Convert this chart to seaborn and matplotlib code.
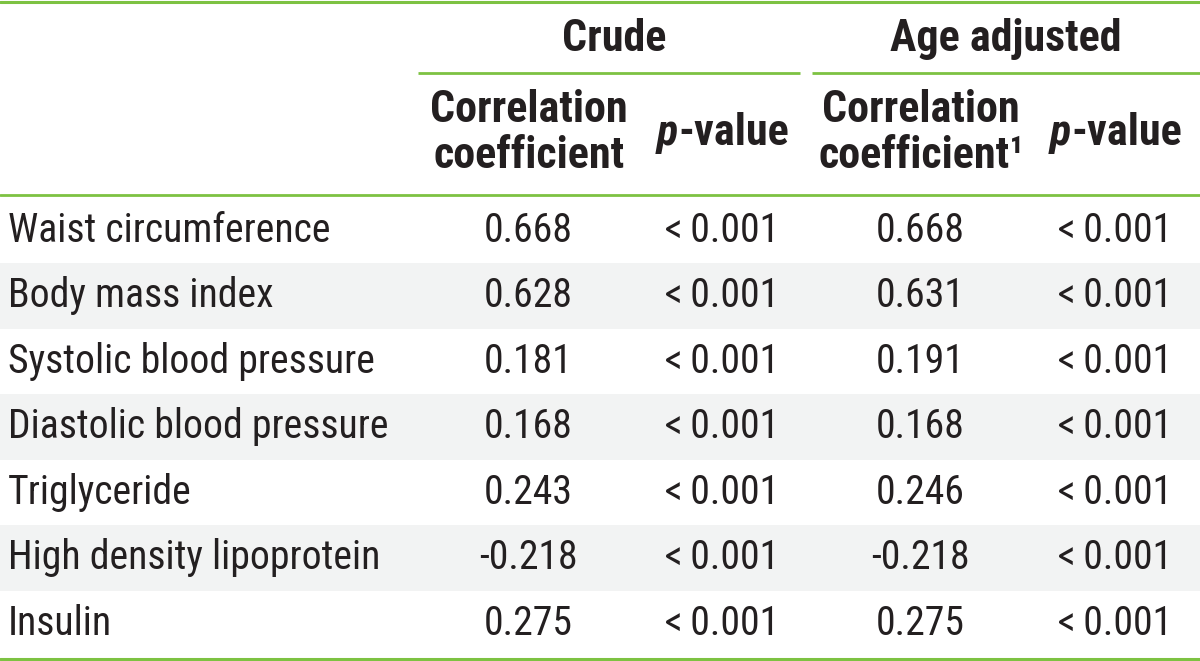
import matplotlib
matplotlib.use("Agg")
import matplotlib.pyplot as plt
from matplotlib import font_manager
import seaborn as sns

sns.set_theme(style="white")

# pick a narrow face if one is installed
names = {(f.name, f.stretch) for f in font_manager.fontManager.ttflist}
family, stretch = "Roboto", "normal"
for cand, st in [("Liberation Sans Narrow", "normal"), ("Roboto Condensed", "normal"),
                 ("DejaVu Sans", "condensed"), ("Noto Sans", "condensed"),
                 ("DejaVu Sans Condensed", "normal")]:
    if any(n == cand and (s == st or st == "normal") for n, s in names):
        family, stretch = cand, st
        break
plt.rcParams['font.family'] = [family, 'DejaVu Sans']
plt.rcParams['font.stretch'] = stretch

# table contents
variables = ["Waist circumference", "Body mass index", "Systolic blood pressure",
             "Diastolic blood pressure", "Triglyceride", "High density lipoprotein", "Insulin"]
crude_r = ["0.668", "0.628", "0.181", "0.168", "0.243", "-0.218", "0.275"]
crude_p = ["<\u20090.001"] * 7
adj_r = ["0.668", "0.631", "0.191", "0.168", "0.246", "-0.218", "0.275"]
adj_p = ["<\u20090.001"] * 7
groups = ["Crude", "Age adjusted"]

GREEN = "#7dc242"
SHADE = "#f2f3f3"
TXT = "#231f20"

fig = plt.figure(figsize=(12, 6.61), dpi=100)
ax = fig.add_axes([0, 0, 1, 1])
ax.set_xlim(0, 1200)
ax.set_ylim(661, 0)
ax.axis("off")
renderer = fig.canvas.get_renderer()


def width_px(s, **kw):
    t = ax.text(0, 0, s, **kw)
    w = t.get_window_extent(renderer).width
    t.remove()
    return w


# fit font sizes to the widths in the reference
fs = 27 * 322 / width_px("Waist circumference", fontsize=27)
fsb = 27 * 232 / width_px("Age adjusted", fontsize=27, fontweight="bold")

row_h = 65.5
top = 197.5
col_x = [528, 722, 920, 1115]

# shaded rows
for i in range(len(variables)):
    if i % 2 == 1:
        ax.axhspan(top + i * row_h, top + (i + 1) * row_h, color=SHADE, lw=0)

# rules
ax.axhline(1.5, color=GREEN, lw=2.2)
ax.axhline(195, color=GREEN, lw=2.0)
ax.axhline(658.5, color=GREEN, lw=2.2)
ax.plot([418, 800], [73, 73], color=GREEN, lw=2.0, solid_capstyle="butt")
ax.plot([812, 1200], [73, 73], color=GREEN, lw=2.0, solid_capstyle="butt")

# group headers
for g, cx in zip(groups, [614, 1006]):
    ax.text(cx, 39, g, ha="center", va="center", fontsize=fsb, fontweight="bold", color=TXT)

# sub headers
for k, cx in enumerate([529, 921]):
    ax.text(cx, 110, "Correlation", ha="center", va="center", fontsize=fsb,
            fontweight="bold", color=TXT)
    lab = "coefficient" if k == 0 else "coefficient\u00b9"
    ax.text(cx, 156, lab, ha="center", va="center", fontsize=fsb, fontweight="bold", color=TXT)
for cx in [723, 1116]:
    wp = width_px("p", fontsize=fsb, fontweight="bold", fontstyle="italic")
    wv = width_px("-value", fontsize=fsb, fontweight="bold")
    left = cx - (wp + wv) / 2
    ax.text(left, 133, "p", ha="left", va="center", fontsize=fsb, fontweight="bold",
            fontstyle="italic", color=TXT)
    ax.text(left + wp, 133, "-value", ha="left", va="center", fontsize=fsb,
            fontweight="bold", color=TXT)

# body
for i, name in enumerate(variables):
    y = top + (i + 0.5) * row_h
    ax.text(8, y, name, ha="left", va="center", fontsize=fs, color=TXT)
    for cx, vals in zip(col_x, [crude_r, crude_p, adj_r, adj_p]):
        ax.text(cx, y, vals[i], ha="center", va="center", fontsize=fs, color=TXT)

fig.savefig("out.png", dpi=100, facecolor="white")
